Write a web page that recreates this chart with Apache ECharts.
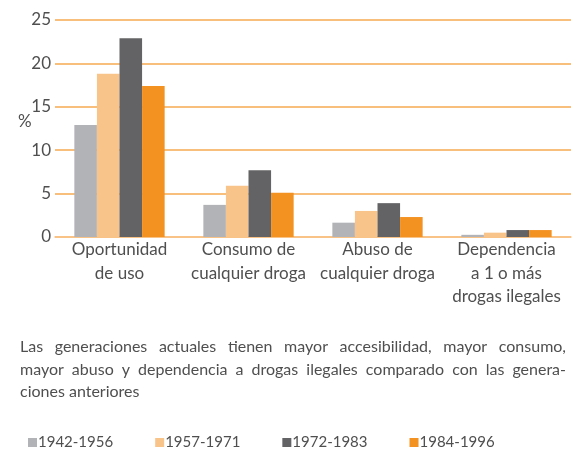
<!DOCTYPE html>
<html>
<head>
<meta charset="utf-8">
<script src="https://cdn.jsdelivr.net/npm/echarts@6/dist/echarts.min.js"></script>
<style>
  html, body { margin: 0; padding: 0; background: #fff; }
  #chart { width: 581px; height: 449px; }
</style>
</head>
<body>
<div id="chart"></div>
<script>
var categories = ['Oportunidad\nde uso', 'Consumo de\ncualquier droga', 'Abuso de\ncualquier droga', 'Dependencia\na 1 o más\ndrogas ilegales'];
var generations = ['1942-1956', '1957-1971', '1972-1983', '1984-1996'];
var s1942 = [12.9, 3.7, 1.65, 0.25];
var s1957 = [18.8, 5.9, 3.0, 0.5];
var s1972 = [22.9, 7.7, 3.9, 0.8];
var s1984 = [17.4, 5.1, 2.3, 0.8];
var captionLines = [
    'Las generaciones actuales tienen mayor accesibilidad, mayor consumo,',
    'mayor abuso y dependencia a drogas ilegales comparado con las genera-',
    'ciones anteriores'
];

var colors = ['#b2b3b7', '#f9c48a', '#636365', '#f39121'];
var font = 'Lato';
var textColor = '#4f4f4f';

var dom = document.getElementById('chart');
var myChart = echarts.init(dom);

var seriesData = [s1942, s1957, s1972, s1984];
var series = [];
for (var i = 0; i < generations.length; i++) {
    series.push({
        name: generations[i],
        type: 'bar',
        data: seriesData[i],
        barGap: '0%',
        barCategoryGap: '30%',
        itemStyle: { color: colors[i] }
    });
}

var graphics = [{
    type: 'text',
    left: 18,
    top: 113,
    style: { text: '%', fill: textColor, fontSize: 17, fontFamily: font }
}];

// caption, justified between x=20 and x=566 (last line left aligned)
var capSize = 16;
var ctx = document.createElement('canvas').getContext('2d');
ctx.font = capSize + 'px ' + font;
var capLeft = 20, capRight = 566;
for (var j = 0; j < captionLines.length; j++) {
    var y = 339 + j * 22.5;
    var words = captionLines[j].split(' ');
    if (j === captionLines.length - 1) {
        graphics.push({ type: 'text', x: capLeft, y: y, style: { text: captionLines[j], fill: textColor, fontSize: capSize, fontFamily: font } });
        continue;
    }
    var total = 0;
    words.forEach(function (w) { total += ctx.measureText(w).width; });
    var gap = (capRight - capLeft - total) / (words.length - 1);
    var x = capLeft;
    words.forEach(function (w) {
        graphics.push({ type: 'text', x: x, y: y, style: { text: w, fill: textColor, fontSize: capSize, fontFamily: font } });
        x += ctx.measureText(w).width + gap;
    });
}

var option = {
    animation: false,
    color: colors,
    grid: { left: 55, right: 10, top: 20, bottom: 212 },
    legend: {
        data: generations,
        left: 28,
        top: 435,
        itemWidth: 9,
        itemHeight: 9,
        itemGap: 42,
        icon: 'rect',
        padding: 0,
        textStyle: { color: textColor, fontSize: 15, fontFamily: font, padding: [0, 0, 0, -4] }
    },
    xAxis: {
        type: 'category',
        data: categories,
        axisTick: { show: false },
        axisLine: { lineStyle: { color: '#f9c48a', width: 1.5 } },
        axisLabel: {
            color: textColor,
            fontSize: 17,
            fontFamily: font,
            lineHeight: 23.5,
            margin: 1,
            interval: 0
        }
    },
    yAxis: {
        type: 'value',
        min: 0,
        max: 25,
        interval: 5,
        axisLine: { show: false },
        axisTick: { show: false },
        splitLine: { lineStyle: { color: '#f6a84f', width: 1.5 } },
        axisLabel: { color: textColor, fontSize: 17, fontFamily: font, margin: 4 }
    },
    graphic: graphics,
    series: series
};

if (option && typeof option === "object") {
    myChart.setOption(option, true);
    window.onresize = myChart.resize;
}
</script>
</body>
</html>
